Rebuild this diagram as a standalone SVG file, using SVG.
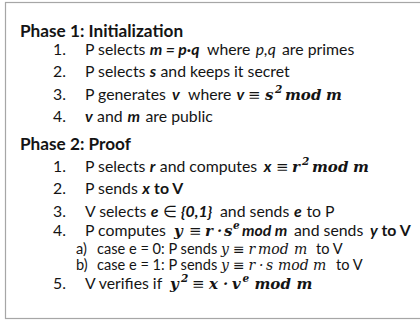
<svg xmlns="http://www.w3.org/2000/svg" width="420" height="320" viewBox="0 0 420 320">
  <style>
    .t { font-family: Lato, "Liberation Sans", sans-serif; font-size: 15.8px; fill: #141414; }
    .h { font-family: Lato, "Liberation Sans", sans-serif; font-size: 17.2px; font-weight: bold; fill: #141414; }
    .sm { font-size: 14.6px; }
    .bi { font-weight: bold; font-style: italic; }
    .i { font-style: italic; }
    .b { font-weight: bold; }
    .m { font-family: "DejaVu Serif", "Liberation Serif", serif; font-size: 15px; font-style: italic; font-weight: bold; fill: #141414; }
    .mr { font-family: "DejaVu Serif", "Liberation Serif", serif; font-size: 14px; font-style: italic; fill: #141414; }
    .op { font-style: normal; font-weight: normal; }
    .sup { font-size: 10.5px; }
  </style>

  <!-- page frame -->
  <rect x="0" y="0" width="420" height="320" fill="#ffffff"/>
  <rect x="5.5" y="2.5" width="420" height="316" fill="#ffffff" stroke="#a6a6a6" stroke-width="1.2"/>

  <!-- Phase 1 -->
  <g id="phase1">
    <text class="h" x="20" y="36.5">Phase 1: Initialization</text>

    <text class="t" y="55">
      <tspan x="53">1.</tspan>
      <tspan x="85">P selects</tspan>
      <tspan x="149.7" class="bi">m = p·q</tspan>
      <tspan x="207">where</tspan>
      <tspan x="255.8" class="i">p,q</tspan>
      <tspan x="282">are primes</tspan>
    </text>

    <text class="t" y="76.5">
      <tspan x="53">2.</tspan>
      <tspan x="85">P selects</tspan>
      <tspan x="149.7" class="bi">s</tspan>
      <tspan x="160.5">and keeps it secret</tspan>
    </text>

    <text class="t" y="100">
      <tspan x="53">3.</tspan>
      <tspan x="85">P generates</tspan>
      <tspan x="172" class="bi">v</tspan>
      <tspan x="188">where</tspan>
      <tspan x="236.6" class="bi">v</tspan>
    </text>
    <text class="m" y="100">
      <tspan x="248" class="op">≡</tspan>
      <tspan x="265">s</tspan>
      <tspan x="275" y="93" class="sup">2</tspan>
      <tspan x="285" y="100">mod</tspan>
      <tspan x="326">m</tspan>
    </text>

    <text class="t" y="121.5">
      <tspan x="53">4.</tspan>
      <tspan x="85" class="bi">v</tspan>
      <tspan x="97.1">and</tspan>
      <tspan x="127.5" class="bi">m</tspan>
      <tspan x="145.5">are public</tspan>
    </text>
  </g>

  <!-- Phase 2 -->
  <g id="phase2">
    <text class="h" x="20" y="150">Phase 2: Proof</text>

    <text class="t" y="172">
      <tspan x="53">1.</tspan>
      <tspan x="85">P selects</tspan>
      <tspan x="149.7" class="bi">r</tspan>
      <tspan x="159.8">and computes</tspan>
      <tspan x="263.8" class="bi">x</tspan>
    </text>
    <text class="m" y="172">
      <tspan x="276" class="op">≡</tspan>
      <tspan x="292">r</tspan>
      <tspan x="302" y="165" class="sup">2</tspan>
      <tspan x="312" y="172">mod</tspan>
      <tspan x="353">m</tspan>
    </text>

    <text class="t" y="193.5">
      <tspan x="53">2.</tspan>
      <tspan x="85">P sends</tspan>
      <tspan x="142.2" class="bi">x</tspan>
      <tspan x="154.1" class="b">to V</tspan>
    </text>

    <text class="t" y="216.5">
      <tspan x="53">3.</tspan>
      <tspan x="85">V selects</tspan>
      <tspan x="150.8" class="bi">e</tspan>
      <tspan x="162.5">∈</tspan>
      <tspan x="181" class="bi">{0,1}</tspan>
      <tspan x="220">and sends</tspan>
      <tspan x="294" class="bi">e</tspan>
      <tspan x="306.5">to P</tspan>
    </text>

    <text class="t" y="236">
      <tspan x="53">4.</tspan>
      <tspan x="85">P computes</tspan>
    </text>
    <text class="m" y="236">
      <tspan x="174">y</tspan>
      <tspan x="189" class="op">≡</tspan>
      <tspan x="205">r</tspan>
      <tspan x="217">·</tspan>
      <tspan x="224">s</tspan>
      <tspan x="233" y="229" class="sup">e</tspan>
    </text>
    <text class="t" y="236">
      <tspan x="242" class="bi">mod m</tspan>
      <tspan x="294">and sends</tspan>
      <tspan x="370" class="bi">y</tspan>
      <tspan x="381.5" class="b">to V</tspan>
    </text>

    <text class="t sm" y="254">
      <tspan x="76">a)</tspan>
      <tspan x="97">case e = 0: P sends</tspan>
    </text>
    <text class="mr" y="254">
      <tspan x="221">y</tspan>
      <tspan x="233" class="op">≡</tspan>
      <tspan x="248.5">r</tspan>
      <tspan x="258">mod</tspan>
      <tspan x="294">m</tspan>
    </text>
    <text class="t sm" x="316" y="254">to V</text>

    <text class="t sm" y="270">
      <tspan x="76">b)</tspan>
      <tspan x="97">case e = 1: P sends</tspan>
    </text>
    <text class="mr" y="270">
      <tspan x="221">y</tspan>
      <tspan x="233" class="op">≡</tspan>
      <tspan x="248.5">r</tspan>
      <tspan x="259">·</tspan>
      <tspan x="266">s</tspan>
      <tspan x="278">mod</tspan>
      <tspan x="313">m</tspan>
    </text>
    <text class="t sm" x="336" y="270">to V</text>

    <text class="t" y="288.5">
      <tspan x="53">5.</tspan>
      <tspan x="85">V verifies if</tspan>
    </text>
    <text class="m" y="288.5">
      <tspan x="170">y</tspan>
      <tspan x="181" y="281.5" class="sup">2</tspan>
      <tspan x="192" y="288.5" class="op">≡</tspan>
      <tspan x="209">x</tspan>
      <tspan x="223">·</tspan>
      <tspan x="232">v</tspan>
      <tspan x="242.5" y="281.5" class="sup">e</tspan>
      <tspan x="254.5" y="288.5">mod</tspan>
      <tspan x="296.5">m</tspan>
    </text>
  </g>
</svg>
